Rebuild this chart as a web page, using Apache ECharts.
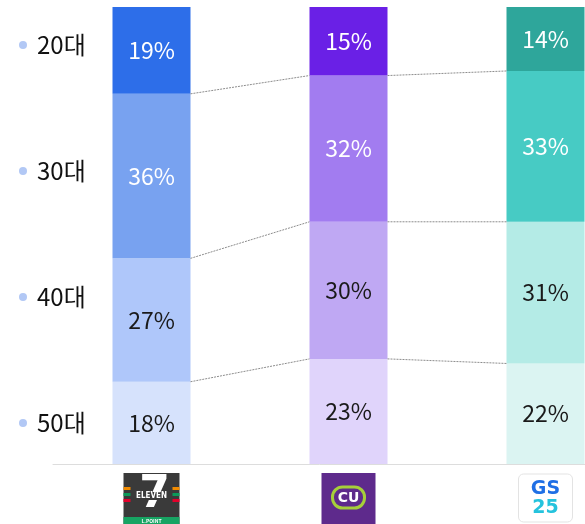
<!DOCTYPE html>
<html>
<head>
<meta charset="utf-8">
<script src="https://cdn.jsdelivr.net/npm/echarts@6/dist/echarts.min.js"></script>
<style>
  html, body { margin: 0; padding: 0; background: #fff; }
  #chart { width: 585px; height: 524px; }
</style>
</head>
<body>
<div id="chart"></div>
<script>
// 편의점별 연령대 구성비 (%)
var brands = ['7-Eleven', 'CU', 'GS25'];
var ageGroups = ['20대', '30대', '40대', '50대'];
var share20 = [19, 15, 14];
var share30 = [36, 32, 33];
var share40 = [27, 30, 31];
var share50 = [18, 23, 22];

// 브랜드별 색 (20대, 30대, 40대, 50대 순)
var brandColors = [
  ['#2d6ee9', '#78a2f0', '#afc7fa', '#d6e2fc'],
  ['#6a20e6', '#a27cf0', '#bfa8f3', '#e0d4fb'],
  ['#2ea69b', '#47cbc4', '#b4ebe6', '#dbf4f2']
];

var FONT = '"Noto Sans CJK KR", "Noto Sans", sans-serif';
var BAR_W = 78;

var dom = document.getElementById('chart');
var myChart = echarts.init(dom);

// 아래에서부터 쌓기: 50대, 40대, 30대, 20대
var stackOrder = [
  { name: '50대', values: share50, ci: 3, dark: false },
  { name: '40대', values: share40, ci: 2, dark: false },
  { name: '30대', values: share30, ci: 1, dark: true },
  { name: '20대', values: share20, ci: 0, dark: true }
];

var series = stackOrder.map(function (s) {
  return {
    name: s.name,
    type: 'bar',
    stack: 'total',
    barWidth: BAR_W,
    itemStyle: { color: brandColors[0][s.ci] },
    label: {
      show: true,
      position: 'inside',
      formatter: '{c}%',
      fontFamily: FONT,
      fontSize: 23,
      color: s.dark ? '#ffffff' : '#1a1a1a'
    },
    emphasis: { disabled: true },
    data: s.values.map(function (v, i) {
      return { value: v, itemStyle: { color: brandColors[i][s.ci] } };
    })
  };
});

// 구간 경계(누적값) -> 막대 사이 점선
var bounds = [];
var cum = brands.map(function () { return 0; });
stackOrder.slice(0, 3).forEach(function (s) {
  cum = cum.map(function (c, i) { return c + s.values[i]; });
  for (var i = 0; i < brands.length - 1; i++) {
    bounds.push([i, cum[i], cum[i + 1]]);
  }
});

series.push({
  type: 'custom',
  silent: true,
  z: 5,
  encode: { x: 0, y: 1 },
  renderItem: function (params, api) {
    var i = api.value(0);
    var p1 = api.coord([i, api.value(1)]);
    var p2 = api.coord([i + 1, api.value(2)]);
    return {
      type: 'line',
      shape: { x1: p1[0] + BAR_W / 2, y1: p1[1], x2: p2[0] - BAR_W / 2, y2: p2[1] },
      style: { stroke: '#8c8c8c', lineWidth: 1, lineDash: [2, 1] }
    };
  },
  data: bounds
});

var option = {
  animation: false,
  legend: {
    orient: 'vertical',
    left: 19,
    top: 32,
    padding: 0,
    icon: 'circle',
    itemWidth: 8,
    itemHeight: 8,
    itemGap: 100,
    selectedMode: false,
    data: ageGroups,
    itemStyle: { color: '#b2c8f5' },
    textStyle: {
      fontFamily: FONT,
      fontSize: 24,
      color: '#111111',
      lineHeight: 26,
      padding: [0, 0, 0, 5]
    }
  },
  grid: { left: 53, width: 591, top: 7, bottom: 60, outerBoundsMode: 'none', containLabel: false },
  xAxis: {
    type: 'category',
    data: brands,
    axisLine: { lineStyle: { color: '#dddddd' } },
    axisTick: { show: false },
    axisLabel: { show: false }
  },
  yAxis: {
    type: 'value',
    min: 0,
    max: 100,
    show: false,
    splitLine: { show: false }
  },
  series: series
};

if (option && typeof option === 'object') {
  myChart.setOption(option, true);
}

// 브랜드 로고 (막대 중심 아래)
var cx = brands.map(function (b) {
  return myChart.convertToPixel({ xAxisIndex: 0 }, b);
});
var logoTop = 473;

function sevenLogo(c) {
  var x0 = c - 28;
  var kids = [
    { type: 'rect', shape: { x: x0, y: logoTop, width: 56, height: 52 }, style: { fill: '#3a3a3a' } },
    { type: 'rect', shape: { x: x0, y: logoTop + 44, width: 56, height: 8 }, style: { fill: '#17a463' } },
    { type: 'text', style: { x: c, y: logoTop + 48, text: 'L.POINT', fill: '#fff', font: 'bold 5px ' + FONT, align: 'center', verticalAlign: 'middle' } },
    { type: 'text', style: { x: c + 3, y: logoTop + 23, text: '7', fill: '#fff', font: 'bold 44px "DejaVu Sans", sans-serif', align: 'center', verticalAlign: 'middle' } },
    { type: 'rect', shape: { x: c - 15, y: logoTop + 19, width: 30, height: 8 }, style: { fill: '#3a3a3a' } },
    { type: 'text', style: { x: c, y: logoTop + 23, text: 'ELEVEN', fill: '#fff', font: 'bold 8px "DejaVu Sans Condensed", sans-serif', align: 'center', verticalAlign: 'middle' } }
  ];
  ['#f28b00', '#0b9a5a', '#e4002b'].forEach(function (col, k) {
    kids.push({ type: 'rect', shape: { x: x0, y: logoTop + 14 + k * 6, width: 7, height: 3 }, style: { fill: col } });
    kids.push({ type: 'rect', shape: { x: x0 + 49, y: logoTop + 14 + k * 6, width: 7, height: 3 }, style: { fill: col } });
  });
  return { type: 'group', children: kids };
}

function cuLogo(c) {
  return {
    type: 'group',
    children: [
      { type: 'rect', shape: { x: c - 27, y: logoTop, width: 54, height: 52 }, style: { fill: '#5e2a8c' } },
      { type: 'rect', shape: { x: c - 16, y: logoTop + 14, width: 32, height: 21, r: 10 }, style: { fill: 'none', stroke: '#a6cf3a', lineWidth: 3 } },
      { type: 'text', style: { x: c, y: logoTop + 25, text: 'CU', fill: '#fff', font: 'bold 14px "DejaVu Sans", sans-serif', align: 'center', verticalAlign: 'middle' } }
    ]
  };
}

function gsLogo(c) {
  return {
    type: 'group',
    children: [
      { type: 'rect', shape: { x: c - 27, y: logoTop + 1, width: 54, height: 48, r: 5 }, style: { fill: '#fff', stroke: '#e3e3e3', lineWidth: 1 } },
      { type: 'text', style: { x: c, y: logoTop + 16, text: 'GS', fill: '#1f6fe5', font: 'bold 19px "DejaVu Sans", sans-serif', align: 'center', verticalAlign: 'middle' } },
      { type: 'text', style: { x: c, y: logoTop + 35, text: '25', fill: '#25c3dd', font: 'bold 19px "DejaVu Sans", sans-serif', align: 'center', verticalAlign: 'middle' } }
    ]
  };
}

myChart.setOption({
  graphic: [sevenLogo(cx[0]), cuLogo(cx[1]), gsLogo(cx[2])]
});
</script>
</body>
</html>
